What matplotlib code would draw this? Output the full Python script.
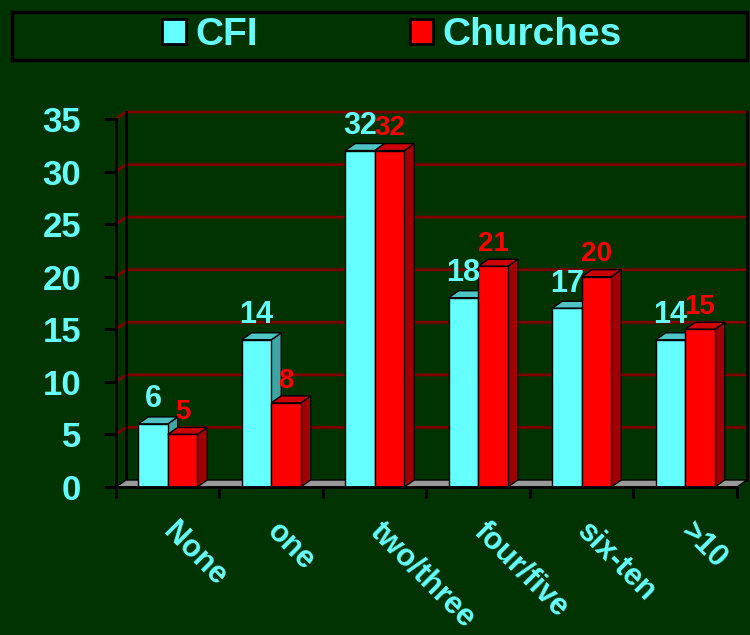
import numpy as np
import matplotlib
matplotlib.use('Agg')
from matplotlib import pyplot as plt
from matplotlib.patches import Polygon, Rectangle, Patch
from matplotlib.lines import Line2D
from matplotlib.transforms import IdentityTransform

plt.rcParams['font.family'] = ['Liberation Sans', 'DejaVu Sans']
plt.rcParams['font.weight'] = 'bold'

# 数据
categories = ['None', 'one', 'two/three', 'four/five', 'six-ten', '>10']
cfi = [6, 14, 32, 18, 17, 14]
churches = [5, 8, 32, 21, 20, 15]
series_names = ['CFI', 'Churches']
yticks = [0, 5, 10, 15, 20, 25, 30, 35]

# 颜色
bg = '#003300'
cyan = '#66ffff'
red = '#ff0000'
front_cols = [cyan, red]
top_cols = ['#4fc4c4', '#cc0000']
side_cols = ['#40a4a4', '#a00000']
label_sizes = [22, 20]
grid_col = '#800000'
floor_col = '#999999'

W, H = 750, 635
fig = plt.figure(figsize=(W / 100, H / 100), dpi=100, facecolor=bg)
ax = fig.add_axes([116 / W, 148 / H, 621 / W, 368 / H])
ax.set_facecolor('none')
n = len(categories)
ax.set_xlim(0, n)
ax.set_ylim(0, yticks[-1])

# 3D 深度（像素）
dx, dy = 10, 7


def px(x, y):
    return ax.transData.transform((x, y))


def poly(pts, fc, ec='black', lw=1, z=2):
    p = Polygon(pts, closed=True, facecolor=fc, edgecolor=ec, linewidth=lw,
                transform=IdentityTransform(), zorder=z, clip_on=False)
    ax.add_artist(p)


def line(pts, color, lw, z=1):
    pts = np.array(pts)
    ax.add_artist(Line2D(pts[:, 0], pts[:, 1], color=color, linewidth=lw,
                         transform=IdentityTransform(), zorder=z,
                         clip_on=False))


# 背景墙网格线
for y in yticks[1:]:
    a = px(0, y)
    b = px(n, y)
    line([a, a + (dx, dy), b + (dx, dy)], grid_col, 2)
# 背景墙边框
line([px(0, 0) + (dx, dy), px(0, yticks[-1]) + (dx, dy)], 'black', 2)
line([px(n, 0) + (dx, dy), px(n, yticks[-1]) + (dx, dy)], 'black', 2)

# 地板
f0, f1 = px(0, 0), px(n, 0)
poly([f0, f1, f1 + (dx, dy), f0 + (dx, dy)], floor_col, lw=1, z=1.5)

# 柱子
w = 0.285
for i in range(n):
    for j, vals in enumerate([cfi, churches]):
        v = vals[i]
        x0 = i + 0.5 - w + j * w
        x1 = x0 + w
        z = 2 + i * 0.1 + j * 0.05
        p00, p10, p01, p11 = px(x0, 0), px(x1, 0), px(x0, v), px(x1, v)
        poly([p10, p11, p11 + (dx, dy), p10 + (dx, dy)], side_cols[j], z=z)
        poly([p01, p11, p11 + (dx, dy), p01 + (dx, dy)], top_cols[j], z=z)
        poly([p00, p10, p11, p01], front_cols[j], z=z + 0.01)
        ax.annotate(str(v), (x0 + w / 2, v), xytext=(0, 12 - j),
                    textcoords='offset points', ha='center', va='baseline',
                    color=front_cols[j], fontsize=label_sizes[j],
                    fontweight='bold', zorder=10 + j, annotation_clip=False)

# 坐标轴
for s in ['top', 'right']:
    ax.spines[s].set_visible(False)
for s in ['left', 'bottom']:
    ax.spines[s].set_color('black')
    ax.spines[s].set_linewidth(2)
    ax.spines[s].set_zorder(5)
ax.set_yticks(yticks)
ax.set_yticklabels([str(t) for t in yticks])
ax.tick_params(axis='y', colors='black', labelcolor=cyan, labelsize=25,
               length=9, width=2, pad=16)
ax.set_xticks(np.arange(n + 1))
ax.set_xticklabels([])
ax.tick_params(axis='x', which='major', colors='black', length=8, width=2)
ax.set_xticks(np.arange(n) + 0.5, minor=True)
ax.set_xticklabels(categories, minor=True, rotation=-45, ha='left',
                   va='center', rotation_mode='anchor')
ax.tick_params(axis='x', which='minor', length=0, pad=29, labelcolor=cyan,
               labelsize=22)

# 图例
fig.add_artist(Rectangle((12 / W, (H - 60) / H), 735 / W, 48 / H,
                         transform=fig.transFigure, fill=False,
                         edgecolor='black', linewidth=2.5))
handles = [Patch(facecolor=c, edgecolor='black', linewidth=2, label=l)
           for c, l in zip(front_cols, series_names)]
leg = fig.legend(handles=handles, loc='center', bbox_to_anchor=(0.523, 1 - 35 / H),
                 ncol=2, frameon=False, fontsize=28, handlelength=0.6,
                 handleheight=0.6, handletextpad=0.25, columnspacing=3.9,
                 labelcolor=cyan)

fig.savefig('out.png', dpi=100, facecolor=bg)
